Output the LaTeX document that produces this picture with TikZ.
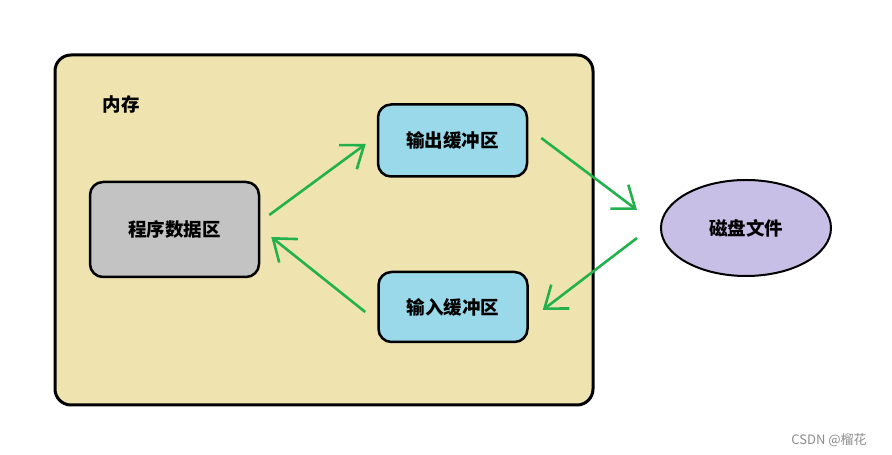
\documentclass[tikz,border=0pt]{standalone}
\usepackage{fontspec}
\newfontfamily\cjk{Noto Sans CJK SC}
\usetikzlibrary{arrows.meta,shapes.geometric}
\definecolor{memtan}{HTML}{EFE4B0}
\definecolor{datagray}{HTML}{C3C3C3}
\definecolor{bufblue}{HTML}{99D9EA}
\definecolor{disklav}{HTML}{C8BFE7}
\definecolor{flowgreen}{HTML}{22B14C}
\begin{document}
\begin{tikzpicture}[x=1pt,y=1pt,
        cjktxt/.style={font=\cjk\bfseries\fontsize{18.5}{22}\selectfont},
        buf/.style={draw=black,line width=2.5pt,rounded corners=13pt,fill=bufblue,
                    minimum width=149pt,minimum height=72pt,cjktxt},
        flow/.style={draw=flowgreen,line width=2.6pt,
                     -{Straight Barb[length=20pt,width=30pt,line width=2.6pt]}}]
            \useasboundingbox (0,0) rectangle (892,455);
            \fill[white] (0,0) rectangle (892,455);

            % Place the memory block
            \node[draw=black,line width=3pt,rounded corners=16pt,fill=memtan,
                  minimum width=538pt,minimum height=350pt] (mem) at (324,225) {};
            \node[cjktxt] (memtxt) at (121,351) {内存};

            % Place the boxes
            \node[draw=black,line width=2.5pt,rounded corners=13pt,fill=datagray,
                  minimum width=169pt,minimum height=95pt,cjktxt] (data) at (174.5,225.5) {程序数据区};
            \node[buf] (out) at (452.5,314.5) {输出缓冲区};
            \node[buf,minimum height=70pt] (in) at (453,148) {输入缓冲区};
            \node[ellipse,draw=black,line width=2pt,fill=disklav,
                  minimum width=170pt,minimum height=96pt,cjktxt] (disk) at (746,227) {磁盘文件};

            % The arrows!
            \draw[flow] ([xshift=9pt,yshift=14.5pt]data.east) -- ([xshift=-11pt,yshift=-3.5pt]out.west);
            \draw[flow] ([xshift=13pt,yshift=2.5pt]out.east) -- ([xshift=-23pt,yshift=18pt]disk.west);
            \draw[flow] ([xshift=-23pt,yshift=-10pt]disk.west) -- ([xshift=14pt,yshift=-3pt]in.east);
            \draw[flow] ([xshift=-12pt,yshift=-5pt]in.west) -- ([xshift=11pt,yshift=-7.5pt]data.east);

            \node[font=\cjk\fontsize{13}{15}\selectfont,text=black!45] (mark) at (829,15) {CSDN @榴花};
        \end{tikzpicture}
\end{document}
